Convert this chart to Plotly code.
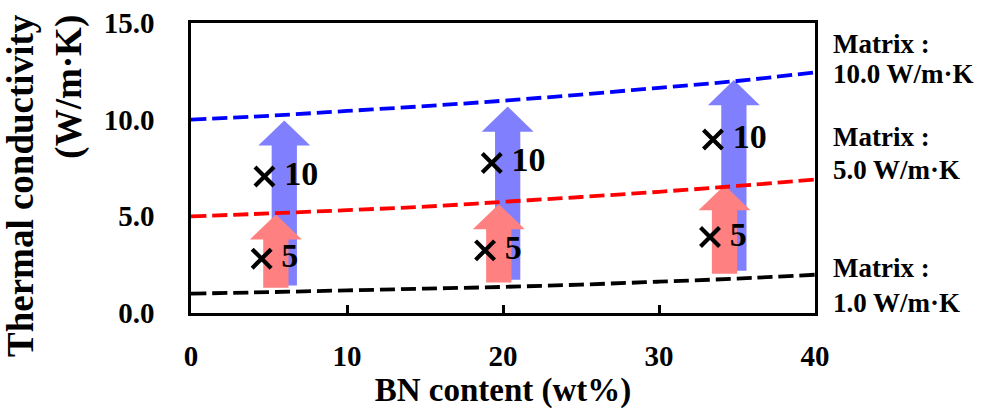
import plotly.graph_objects as go

# ---- data ----
bn_grid = [0, 5, 10, 15, 20, 25, 30, 35, 40]
matrix10 = [10.0, 10.2, 10.45, 10.7, 10.98, 11.3, 11.65, 12.0, 12.45]
matrix5 = [5.0, 5.15, 5.32, 5.5, 5.75, 6.0, 6.27, 6.57, 6.9]
matrix1 = [1.0, 1.08, 1.17, 1.26, 1.35, 1.47, 1.62, 1.78, 1.98]

x10_bn = [4.71, 19.28, 33.46]
x10_k = [7.06, 7.76, 8.97]
x5_bn = [4.53, 18.85, 33.27]
x5_k = [2.81, 3.24, 3.93]
ratio10_labels = ["10", "10", "10"]
ratio5_labels = ["5", "5", "5"]

blue_arrow_bn = [5.98, 20.3, 34.8]
blue_arrow_from = [1.42, 1.72, 2.19]
blue_arrow_to = [9.96, 10.68, 12.05]
red_arrow_bn = [5.44, 19.73, 34.2]
red_arrow_from = [1.3, 1.58, 2.03]
red_arrow_to = [5.1, 5.63, 6.61]

x_ticks = [0, 10, 20, 30, 40]
y_ticks = [0, 5, 10, 15]
matrix_labels = ["10.0 W/m·K", "5.0 W/m·K", "1.0 W/m·K"]

SERIF = "Liberation Serif, Times New Roman, serif"
SHAFT_W = 1.62
HEAD_W = 3.33
HEAD_L = 1.3


def arrow_poly(xc, y0, y1):
    hs, hh = SHAFT_W / 2, HEAD_W / 2
    yb = y1 - HEAD_L
    xs = [xc - hs, xc - hs, xc - hh, xc, xc + hh, xc + hs, xc + hs, xc - hs]
    ys = [y0, yb, yb, y1, yb, yb, y0, y0]
    return xs, ys


fig = go.Figure()

for xc, a, b in zip(blue_arrow_bn, blue_arrow_from, blue_arrow_to):
    xs, ys = arrow_poly(xc, a, b)
    fig.add_trace(go.Scatter(x=xs, y=ys, mode="lines", fill="toself",
                             fillcolor="#8080FF", line=dict(width=0),
                             hoverinfo="skip", showlegend=False))
for xc, a, b in zip(red_arrow_bn, red_arrow_from, red_arrow_to):
    xs, ys = arrow_poly(xc, a, b)
    fig.add_trace(go.Scatter(x=xs, y=ys, mode="lines", fill="toself",
                             fillcolor="#FF8080", line=dict(width=0),
                             hoverinfo="skip", showlegend=False))

for vals, col in [(matrix10, "#0000FF"), (matrix5, "#FF0000"), (matrix1, "#000000")]:
    fig.add_trace(go.Scatter(x=bn_grid, y=vals, mode="lines", line_shape="spline",
                             line=dict(color=col, width=3.8, dash="15px,6px"),
                             showlegend=False))

for xs, ys, labs in [(x10_bn, x10_k, ratio10_labels), (x5_bn, x5_k, ratio5_labels)]:
    fig.add_trace(go.Scatter(x=xs, y=ys, mode="markers+text",
                             text=["<b>\u2009" + t + "</b>" for t in labs],
                             textposition="middle right",
                             textfont=dict(family=SERIF, size=34, color="black"),
                             marker=dict(symbol="x-thin", size=19,
                                         line=dict(width=4.2, color="black")),
                             showlegend=False))

# right-hand labels
ys_pix = [(44, 74), (137, 170), (268, 303)]
for (p1, p2), lab in zip(ys_pix, matrix_labels):
    for p, t in [(p1, "Matrix :"), (p2, lab)]:
        fig.add_annotation(x=1, y=(313 - p) / 290, xref="paper", yref="paper",
                           xanchor="left", yanchor="middle", xshift=16,
                           text="<b>" + t + "</b>", showarrow=False,
                           font=dict(family=SERIF, size=27, color="black"))

# y-axis title (right-aligned two lines, rotated)
fig.add_annotation(x=(45 - 191) / 624, y=(313 - 186) / 290, xref="paper", yref="paper",
                   xanchor="center", yanchor="middle", textangle=-90, align="right",
                   text="<b>Thermal conductivity<br>(W/m·K)</b>", showarrow=False,
                   font=dict(family=SERIF, size=37, color="black"))

fig.update_layout(
    width=985, height=409,
    margin=dict(l=191, r=170, t=23, b=96),
    plot_bgcolor="white", paper_bgcolor="white",
    font=dict(family=SERIF, color="black"),
)
fig.update_xaxes(range=[0, 40], tickvals=x_ticks, ticktext=[f"<b>{v}</b>" for v in x_ticks],
                 showgrid=False, zeroline=False, showline=True, mirror=True, automargin=False,
                 linecolor="black", linewidth=2.5, ticks="inside", ticklen=8,
                 tickwidth=2.5, tickcolor="black", ticklabelstandoff=15,
                 tickfont=dict(family=SERIF, size=29),
                 title=dict(text="<b>BN content (wt%)</b>", standoff=17,
                            font=dict(family=SERIF, size=33)))
fig.update_yaxes(range=[0, 15], tickvals=y_ticks, ticktext=[f"<b>{v:.1f}</b>" for v in y_ticks],
                 showgrid=False, zeroline=False, showline=True, mirror=True, automargin=False,
                 linecolor="black", linewidth=2.5, ticks="", ticklabelstandoff=28,
                 tickfont=dict(family=SERIF, size=29))

fig.write_html("out.html", config={"displayModeBar": False},
               post_script="document.body.style.margin='0px';document.body.style.padding='0px';")
